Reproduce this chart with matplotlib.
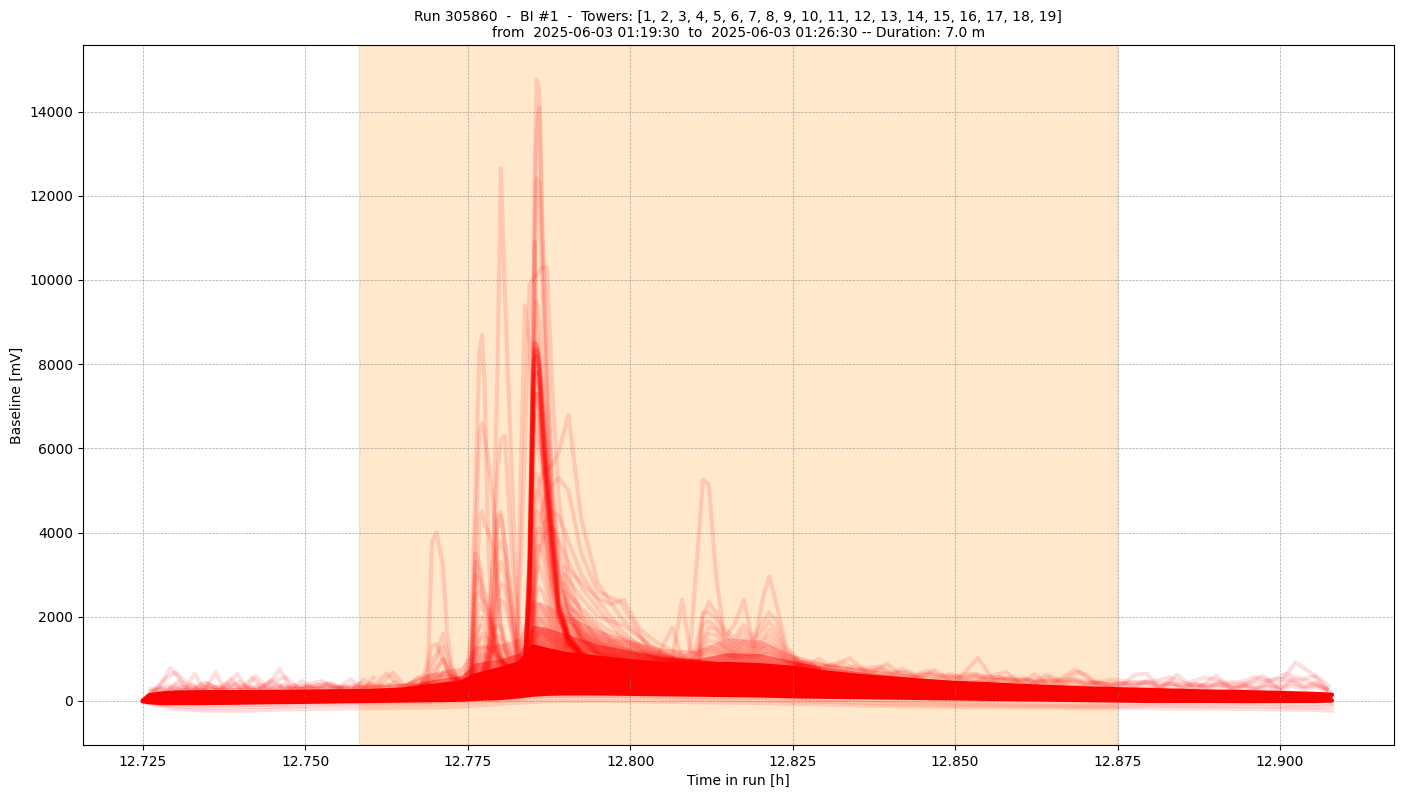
import matplotlib
matplotlib.use("Agg")
import matplotlib.pyplot as plt

title_text = ("Run 305860  -  BI #1  -  Towers: [1, 2, 3, 4, 5, 6, 7, 8, 9, 10, 11, 12, 13, 14, 15, 16, 17, 18, 19]\n"
              "from  2025-06-03 01:19:30  to  2025-06-03 01:26:30 -- Duration: 7.0 m")
window_start = 12.7583
window_end = 12.8749

# common grid for the dense band
time_h = [12.725, 12.726, 12.728, 12.73, 12.735, 12.74, 12.745, 12.75, 12.755, 12.76, 12.765,
          12.77, 12.774, 12.776, 12.78, 12.783, 12.785, 12.787, 12.79, 12.795, 12.80, 12.805,
          12.81, 12.815, 12.82, 12.825, 12.83, 12.835, 12.84, 12.845, 12.85, 12.855, 12.86,
          12.865, 12.87, 12.875, 12.88, 12.885, 12.89, 12.895, 12.90, 12.905, 12.908]
core_hi = [10, 140, 180, 200, 210, 210, 215, 220, 230, 240, 270, 370, 440, 600, 760, 900, 1300, 1220,
           1120, 1030, 950, 880, 860, 880, 850, 790, 680, 600, 540, 480, 430, 400, 360, 330, 300, 280,
           260, 240, 220, 210, 190, 170, 150]
core_lo = [-5, -30, -50, -50, -50, -40, -30, -20, -10, 0, 10, 20, 30, 50, 70, 110, 150, 170, 180, 180,
           170, 160, 150, 140, 130, 110, 100, 90, 80, 70, 60, 50, 40, 30, 20, 10, 0, 0, 0, -5, 0, 0, 10]
# softer density just above the solid band
haze_near = [10, 170, 230, 260, 270, 270, 275, 280, 290, 300, 340, 520, 600, 900, 1000, 1150, 1800, 1750,
             1600, 1350, 1200, 1050, 1000, 1150, 1120, 950, 800, 700, 620, 540, 480, 450, 410, 380, 340,
             320, 300, 280, 260, 250, 230, 200, 160]
haze_far = [10, 190, 270, 310, 320, 320, 330, 340, 350, 360, 420, 700, 800, 1300, 1350, 1500, 2400, 2300,
            2050, 1700, 1450, 1250, 1200, 1500, 1450, 1100, 900, 780, 680, 600, 530, 500, 450, 420, 380,
            360, 340, 320, 300, 290, 270, 230, 170]
low_a = [0, -60, -130, -190, -230, -230, -210, -190, -180, -170, -160, -150, -130, -110, -70, -40, -20,
         -10, 0, 0, -10, -20, -30, -40, -50, -70, -80, -100, -120, -130, -140, -150, -150, -160, -170,
         -170, -170, -180, -180, -190, -200, -210, -230]
low_b = [0, -40, -90, -130, -160, -150, -140, -110, -90, -80, -70, -60, -40, -20, 10, 40, 80, 90, 100,
         100, 90, 70, 50, 40, 20, 0, -20, -40, -60, -80, -90, -100, -110, -120, -130, -130, -110, -120,
         -130, -120, -140, -150, -130]
low_c = [0, -30, -70, -90, -110, -100, -90, -70, -60, -40, -30, -20, 0, 20, 40, 70, 110, 120, 130, 130,
         120, 110, 90, 80, 70, 50, 30, 20, 0, -20, -40, -50, -60, -70, -80, -80, -70, -80, -80, -70,
         -90, -90, -70]

# pale excursions above the band
bump_a_t = [12.725, 12.7275, 12.7292, 12.7305, 12.7316, 12.7330, 12.7345, 12.7362, 12.7375, 12.7395,
            12.7410, 12.7424, 12.7440, 12.7461, 12.7478, 12.7495, 12.7515, 12.7540, 12.7560]
bump_a_v = [0, 320, 780, 560, 330, 640, 260, 680, 300, 640, 320, 600, 330, 760, 300, 470, 280, 430, 250]
bump_b_t = [12.726, 12.7285, 12.7300, 12.7318, 12.7338, 12.7350, 12.7368, 12.7385, 12.7402, 12.7418,
            12.7432, 12.7450, 12.7470, 12.7490, 12.7505, 12.7525, 12.7550, 12.7570, 12.7590, 12.7605]
bump_b_v = [150, 520, 680, 420, 250, 420, 270, 520, 280, 560, 340, 480, 560, 300, 400, 470, 300, 520, 280, 560]
bump_c_t = [12.7285, 12.7305, 12.7325, 12.7345, 12.7370, 12.7398, 12.7425, 12.7445, 12.7465, 12.7490,
            12.7530, 12.7570, 12.7610, 12.7625, 12.7650, 12.7675, 12.7695]
bump_c_v = [210, 470, 220, 440, 260, 450, 240, 470, 340, 280, 410, 260, 430, 650, 300, 560, 340]
bump_d_t = [12.7575, 12.7590, 12.7610, 12.7635, 12.7655, 12.7675, 12.7700, 12.7712, 12.7725, 12.7738]
bump_d_v = [300, 500, 310, 680, 320, 560, 620, 1000, 560, 480]

right_a_t = [12.8520, 12.8545, 12.8579, 12.8600, 12.8622, 12.8645, 12.8684, 12.8702, 12.8725, 12.8750,
             12.8776, 12.8795, 12.8815, 12.8842, 12.8870, 12.8902, 12.8930, 12.8973, 12.8996, 12.9024,
             12.9048, 12.9065, 12.908]
right_a_v = [370, 560, 690, 380, 640, 360, 740, 620, 330, 280, 620, 650, 290, 620, 270, 600, 260, 600,
             340, 920, 660, 420, 130]
right_b_t = [12.8500, 12.8535, 12.8560, 12.8590, 12.8610, 12.8640, 12.8665, 12.8690, 12.8715, 12.8740,
             12.8785, 12.8810, 12.8830, 12.8855, 12.8885, 12.8915, 12.8945, 12.8960, 12.8985, 12.9010,
             12.9035, 12.9055, 12.9075]
right_b_v = [430, 1020, 480, 560, 340, 620, 480, 700, 420, 510, 430, 480, 560, 420, 560, 430, 470, 560,
             480, 640, 520, 600, 360]
right_c_t = [12.8300, 12.8338, 12.8368, 12.8395, 12.8420, 12.8450, 12.8468, 12.8490, 12.8520, 12.8560,
             12.8600, 12.8640, 12.8680, 12.8730, 12.8790, 12.8840, 12.8900, 12.8950, 12.9000, 12.9040, 12.9070]
right_c_v = [800, 1010, 640, 880, 600, 560, 740, 520, 650, 560, 510, 470, 520, 400, 450, 400, 380, 410,
             520, 480, 300]

# low ragged edge just above the band, left part
fuzz_left_t = [12.7262, 12.7276, 12.7288, 12.7301, 12.7313, 12.7327, 12.7340, 12.7352, 12.7366, 12.7379,
               12.7391, 12.7404, 12.7417, 12.7429, 12.7443, 12.7456, 12.7468, 12.7481, 12.7494, 12.7507,
               12.7520, 12.7533, 12.7546, 12.7559, 12.7572, 12.7585, 12.7598, 12.7611, 12.7624, 12.7637,
               12.7650, 12.7663, 12.7676, 12.7689, 12.7702, 12.7715, 12.7728, 12.7741]
fuzz_left_a = [230, 330, 270, 380, 290, 400, 280, 370, 290, 410, 300, 360, 290, 390, 300, 420, 290, 380,
               300, 350, 310, 410, 300, 360, 320, 430, 310, 380, 320, 450, 330, 410, 340, 520, 480, 740, 520, 500]
fuzz_left_b = [290, 260, 360, 290, 340, 270, 390, 280, 350, 280, 380, 270, 340, 300, 370, 280, 400, 300,
               370, 290, 380, 300, 350, 310, 390, 310, 360, 330, 400, 320, 380, 340, 430, 380, 620, 560, 610, 470]
fuzz_left_c = [200, 290, 240, 300, 250, 320, 240, 310, 260, 300, 250, 330, 260, 300, 270, 340, 270, 310,
               280, 320, 280, 330, 290, 320, 300, 340, 310, 350, 320, 360, 340, 370, 380, 420, 560, 660, 480, 540]

# low ragged edge just above the band, right part
fuzz_right_t = [12.8255, 12.8272, 12.8290, 12.8310, 12.8328, 12.8346, 12.8365, 12.8384, 12.8402, 12.8420,
                12.8439, 12.8458, 12.8476, 12.8495, 12.8514, 12.8532, 12.8551, 12.8570, 12.8588, 12.8607,
                12.8626, 12.8644, 12.8663, 12.8682, 12.8700, 12.8719, 12.8738, 12.8757, 12.8775, 12.8794,
                12.8813, 12.8832, 12.8850, 12.8869, 12.8888, 12.8906, 12.8925, 12.8944, 12.8962, 12.8981,
                12.9000, 12.9018, 12.9037, 12.9056, 12.9072]
fuzz_right_a = [980, 860, 1000, 810, 900, 760, 780, 820, 680, 760, 620, 720, 600, 640, 560, 640, 520, 580,
                480, 550, 440, 560, 440, 520, 410, 470, 380, 430, 370, 470, 350, 450, 330, 410, 340, 460,
                320, 390, 310, 430, 310, 510, 350, 450, 290]
fuzz_right_b = [860, 930, 780, 870, 740, 820, 690, 760, 650, 690, 610, 650, 590, 590, 530, 580, 500, 520,
                470, 500, 440, 490, 420, 460, 400, 430, 380, 410, 360, 420, 340, 410, 330, 380, 320, 400,
                310, 360, 300, 380, 290, 440, 320, 390, 270]
fuzz_right_c = [900, 820, 880, 780, 800, 710, 740, 680, 640, 660, 580, 620, 560, 560, 510, 530, 480, 500,
                450, 470, 420, 450, 400, 430, 380, 400, 360, 380, 340, 370, 320, 360, 310, 340, 300, 340,
                290, 320, 280, 330, 270, 360, 280, 330, 240]

# main spike near 12.785 h
spike_t = [12.7825, 12.7838, 12.7845, 12.7850, 12.7853, 12.7856, 12.7860, 12.7865, 12.7872, 12.7880,
           12.7890, 12.7905, 12.7925, 12.7950, 12.7985, 12.8030, 12.8080]
spike_rows = [
    [600, 900, 3200, 8200, 12400, 14750, 14500, 11200, 8000, 5200, 3700, 2600, 1700, 1300, 1000, 800, 600],
    [500, 800, 2500, 7000, 11000, 13400, 14100, 10800, 7600, 5000, 3300, 2300, 1600, 1200, 950, 750, 600],
    [500, 700, 2200, 6000, 9500, 12400, 12300, 9800, 7000, 4600, 3100, 2200, 1500, 1150, 900, 700, 550],
    [800, 6000, 9900, 10000, 10100, 10100, 10200, 10300, 10300, 7500, 4800, 3000, 2000, 1400, 1050, 800, 600],
    [1000, 9400, 8500, 7000, 6500, 6400, 6200, 5800, 5000, 3900, 2800, 2000, 1500, 1100, 900, 700, 550],
    [500, 800, 2800, 7500, 10900, 8800, 8200, 7400, 6000, 4300, 3000, 2100, 1500, 1150, 900, 700, 550],
    [400, 700, 2500, 6500, 8500, 9500, 9000, 7800, 6200, 4400, 2900, 2000, 1400, 1100, 850, 700, 550],
    [400, 650, 2500, 5500, 6700, 6800, 6500, 5700, 4400, 3100, 2200, 1550, 1150, 900, 730, 600, 480],
    [400, 650, 2300, 5000, 6100, 6200, 5900, 5200, 4000, 2900, 2100, 1500, 1100, 880, 720, 600, 470],
    [400, 600, 2100, 4500, 5300, 5400, 5200, 4700, 3800, 2800, 2000, 1450, 1100, 860, 700, 580, 470],
    [380, 600, 1800, 3800, 4800, 5000, 4900, 4500, 3700, 2700, 1950, 1400, 1050, 850, 700, 580, 460],
    [380, 580, 1500, 3200, 4200, 4500, 4500, 4200, 3500, 2600, 1900, 1350, 1050, 830, 680, 570, 460],
    [370, 560, 1300, 2800, 3700, 4000, 4100, 3900, 3200, 2400, 1800, 1300, 1000, 820, 680, 560, 450],
    [360, 540, 1100, 2300, 3200, 3600, 3700, 3500, 2900, 2200, 1650, 1250, 980, 800, 660, 550, 450],
    [360, 520, 950, 1900, 2700, 3100, 3200, 3000, 2600, 2000, 1550, 1200, 950, 780, 650, 540, 440],
    [350, 500, 800, 1500, 2200, 2600, 2700, 2600, 2300, 1800, 1450, 1150, 920, 760, 640, 530, 440],
    [350, 480, 700, 1200, 1800, 2200, 2300, 2200, 2000, 1650, 1350, 1100, 900, 750, 630, 520, 430],
    [340, 460, 620, 1000, 1500, 1800, 1950, 1900, 1750, 1500, 1280, 1050, 880, 730, 620, 510, 430],
    [340, 450, 560, 850, 1250, 1500, 1650, 1650, 1550, 1380, 1200, 1000, 850, 720, 610, 500, 420],
    [400, 600, 1200, 2500, 3800, 4800, 5200, 5400, 5500, 5600, 5900, 6800, 4300, 2800, 2000, 1300, 900],
    [400, 600, 1000, 2000, 3000, 3800, 4200, 4600, 4900, 5100, 5300, 5000, 3500, 2600, 2350, 1200, 850],
    [380, 560, 900, 1700, 2600, 3300, 3700, 4100, 4400, 4500, 4400, 3800, 3000, 2400, 1700, 1100, 800],
    [380, 540, 850, 1500, 2400, 3000, 3400, 3800, 4100, 4100, 3800, 3300, 2700, 2200, 1550, 1050, 780],
]
# saturated riser and wedge of the main spike
dense_rows = [
    [450, 800, 3400, 7600, 8500, 8450, 8100, 7000, 5500, 4100, 2500, 1550, 1150, 950, 780, 650, 500],
    [450, 800, 3100, 7200, 8300, 8350, 7900, 6800, 5300, 3900, 2350, 1500, 1120, 930, 770, 640, 500],
    [420, 760, 2900, 6900, 8100, 8200, 7700, 6500, 5100, 3700, 2250, 1450, 1100, 920, 760, 640, 490],
    [420, 720, 2700, 6400, 7700, 7800, 7400, 6300, 4900, 3500, 2150, 1400, 1080, 900, 750, 630, 490],
    [400, 700, 2600, 6000, 7200, 7300, 6900, 5900, 4600, 3300, 2050, 1380, 1060, 890, 740, 620, 480],
]

# earlier spikes near 12.777 and 12.780 h
early_t = [12.7745, 12.7755, 12.7762, 12.7768, 12.7772, 12.7776, 12.7782, 12.7790, 12.7796, 12.7801,
           12.7807, 12.7815, 12.7825, 12.7835]
early_rows = [
    [400, 1500, 5000, 8300, 8700, 7500, 3500, 1300, 900, 800, 750, 700, 650, 600],
    [300, 350, 400, 450, 500, 550, 800, 4000, 8000, 12650, 9800, 6500, 2500, 900],
    [350, 1000, 3800, 6400, 6600, 6300, 5700, 4600, 2900, 1800, 1300, 900, 700, 600],
    [350, 800, 2000, 4400, 4500, 4200, 4000, 3600, 2600, 1700, 1200, 850, 700, 600],
    [300, 350, 400, 500, 700, 1000, 1900, 3500, 5500, 6200, 6300, 4300, 1900, 800],
    [300, 500, 3500, 3300, 2900, 2600, 2300, 1800, 1400, 1100, 900, 750, 650, 550],
    [300, 500, 3300, 3100, 2700, 2400, 2100, 1700, 1300, 1050, 900, 750, 650, 550],
    [300, 450, 3000, 2900, 2500, 2200, 2000, 1600, 1300, 1000, 880, 740, 650, 550],
    [300, 450, 2500, 2600, 2400, 2350, 2150, 1500, 1200, 1000, 860, 730, 640, 550],
    [300, 420, 1800, 2300, 2200, 2100, 1900, 1400, 1150, 980, 850, 720, 630, 540],
    [300, 400, 1300, 1900, 2000, 1900, 1750, 1350, 1100, 950, 830, 710, 620, 530],
    [280, 380, 1000, 1500, 1600, 1550, 1450, 1250, 1050, 930, 800, 700, 620, 530],
    [280, 360, 800, 1200, 1300, 1300, 1250, 1100, 1000, 900, 790, 690, 610, 520],
    [280, 340, 650, 950, 1100, 1100, 1050, 980, 900, 840, 760, 680, 600, 520],
    [280, 340, 380, 420, 500, 800, 1300, 2500, 4400, 4500, 3800, 2700, 1500, 800],
    [280, 330, 370, 410, 480, 700, 1100, 2200, 4300, 4400, 3700, 2600, 1400, 780],
    [270, 320, 360, 400, 460, 620, 950, 1900, 3600, 3800, 3400, 2400, 1300, 760],
    [270, 320, 350, 390, 440, 560, 820, 1600, 3000, 3300, 3000, 2200, 1200, 740],
    [270, 310, 340, 380, 420, 520, 720, 1400, 2500, 2800, 2700, 2000, 1100, 720],
    [260, 300, 330, 370, 410, 480, 650, 1200, 2100, 2400, 2300, 1800, 1050, 700],
    [300, 700, 1500, 1750, 1800, 1700, 1500, 1250, 1050, 980, 900, 800, 720, 680],
    [300, 620, 1200, 1450, 1500, 1420, 1300, 1150, 1020, 950, 880, 780, 700, 660],
    [280, 340, 420, 520, 650, 900, 1250, 1700, 1800, 1750, 1500, 1200, 1000, 780],
    [280, 330, 400, 480, 600, 800, 1050, 1400, 1550, 1500, 1350, 1100, 950, 760],
    [280, 320, 380, 450, 560, 720, 920, 1200, 1350, 1330, 1200, 1020, 900, 740],
]

# small bump before the spikes, 4000 mV excursion at 12.770 h
pre_t = [12.7675, 12.7688, 12.7695, 12.7702, 12.7712, 12.7718, 12.7725, 12.7735, 12.7745]
pre_rows = [
    [250, 400, 3800, 4000, 3200, 1700, 800, 500, 400],
    [260, 900, 1300, 1350, 1000, 750, 560, 430, 350],
    [260, 700, 1000, 1100, 1600, 1200, 800, 500, 380],
    [250, 550, 800, 1000, 1300, 950, 700, 460, 360],
    [240, 450, 650, 800, 1000, 800, 620, 440, 350],
]

# bumps near 12.812 to 12.821 h
mid_t = [12.8040, 12.8065, 12.8080, 12.8092, 12.8105, 12.8112, 12.8121, 12.8132, 12.8145, 12.8160,
         12.8175, 12.8190, 12.8205, 12.8214, 12.8225, 12.8240, 12.8260, 12.8290]
mid_rows = [
    [1000, 1750, 1000, 1150, 3800, 5250, 5150, 3000, 1500, 1800, 2400, 1300, 2500, 2950, 2300, 1300, 950, 800],
    [950, 1000, 2400, 1200, 1100, 2000, 2350, 2100, 1700, 1500, 1800, 1500, 1900, 2100, 1900, 1200, 950, 780],
    [900, 950, 950, 950, 1500, 2100, 2100, 1950, 1600, 1400, 1650, 1400, 1700, 1900, 1650, 1150, 900, 760],
    [880, 900, 900, 900, 1250, 1800, 1900, 1750, 1500, 1300, 1500, 1300, 1500, 1700, 1500, 1100, 880, 750],
    [860, 880, 880, 880, 1150, 1500, 1750, 1700, 1400, 1200, 1400, 1250, 1400, 1550, 1350, 1050, 860, 730],
    [840, 860, 860, 860, 1080, 1400, 1600, 1550, 1300, 1150, 1300, 1200, 1300, 1400, 1250, 1000, 850, 720],
    [830, 840, 840, 850, 1000, 1300, 1450, 1400, 1250, 1100, 1200, 1150, 1250, 1300, 1180, 980, 840, 710],
    [820, 830, 830, 840, 960, 1200, 1300, 1250, 1150, 1050, 1120, 1100, 1150, 1200, 1100, 950, 830, 700],
    [810, 820, 820, 830, 930, 1120, 1200, 1150, 1080, 1020, 1060, 1050, 1100, 1120, 1040, 930, 820, 690],
]

# decay tails after the main spike
tail_t = [12.7900, 12.7925, 12.7950, 12.7970, 12.7990, 12.8015, 12.8040, 12.8070, 12.8100, 12.8130]
tail_rows = [
    [3200, 2800, 2450, 2300, 2400, 1700, 1400, 1150, 950, 900],
    [3000, 2450, 2000, 1900, 1800, 1500, 1250, 1050, 950, 880],
    [2600, 2200, 1850, 1650, 1500, 1350, 1150, 1000, 930, 880],
    [2300, 2000, 1700, 1500, 1400, 1250, 1100, 1000, 920, 880],
    [2100, 1800, 1550, 1400, 1300, 1200, 1080, 980, 920, 880],
    [1900, 1650, 1450, 1320, 1250, 1150, 1050, 960, 910, 880],
    [1750, 1550, 1380, 1270, 1200, 1120, 1030, 950, 900, 870],
    [1600, 1450, 1300, 1220, 1150, 1080, 1010, 940, 900, 870],
    [2800, 2100, 1750, 1450, 1380, 1300, 1180, 1020, 940, 890],
    [2450, 1900, 1600, 1420, 1280, 1180, 1100, 990, 930, 880],
    [2200, 1720, 1500, 1350, 1220, 1130, 1060, 970, 920, 880],
    [2000, 1600, 1420, 1300, 1180, 1100, 1030, 960, 910, 870],
    [1800, 1500, 1350, 1250, 1130, 1060, 1000, 940, 900, 860],
    [1650, 1420, 1280, 1180, 1100, 1040, 990, 930, 890, 860],
    [1500, 1350, 1220, 1140, 1080, 1020, 970, 920, 880, 850],
    [1420, 1300, 1180, 1110, 1050, 1000, 960, 910, 880, 850],
    [1350, 1240, 1150, 1080, 1030, 990, 950, 900, 870, 850],
    [1300, 1200, 1120, 1060, 1010, 970, 930, 900, 870, 840],
]

fig, ax = plt.subplots(figsize=(14.02, 7.99), dpi=100)
fig.subplots_adjust(left=0.0592, right=0.9941, top=0.9437, bottom=0.0676)

ax.axvspan(window_start, window_end, color="darkorange", alpha=0.2)

pale = dict(color="red", alpha=0.13, lw=3)
for low in (low_a, low_b, low_c):
    ax.plot(time_h, low, **pale)
for t, v in [(bump_a_t, bump_a_v), (bump_b_t, bump_b_v), (bump_c_t, bump_c_v), (bump_d_t, bump_d_v),
             (right_a_t, right_a_v), (right_b_t, right_b_v), (right_c_t, right_c_v),
             (fuzz_left_t, fuzz_left_a), (fuzz_left_t, fuzz_left_b), (fuzz_left_t, fuzz_left_c),
             (fuzz_right_t, fuzz_right_a), (fuzz_right_t, fuzz_right_b), (fuzz_right_t, fuzz_right_c)]:
    ax.plot(t, v, **pale)
for t, rows in [(spike_t, spike_rows), (early_t, early_rows), (pre_t, pre_rows),
                (mid_t, mid_rows), (tail_t, tail_rows)]:
    for row in rows:
        ax.plot(t, row, **pale)
for row in dense_rows:
    ax.plot(spike_t, row, color="red", alpha=0.35, lw=3)

ax.fill_between(time_h, core_hi, haze_far, color="red", alpha=0.2, lw=0)
ax.fill_between(time_h, core_hi, haze_near, color="red", alpha=0.45, lw=0)
ax.fill_between(time_h, core_lo, core_hi, color="red", lw=0)
ax.plot(time_h, core_hi, color="red", lw=3, solid_capstyle="round")
ax.plot(time_h, core_lo, color="red", lw=3, solid_capstyle="round")

ax.set_xlim(12.7158, 12.9175)
ax.set_ylim(-1045, 15580)
ax.set_xticks([12.725, 12.75, 12.775, 12.8, 12.825, 12.85, 12.875, 12.9])
ax.set_xticklabels(["12.725", "12.750", "12.775", "12.800", "12.825", "12.850", "12.875", "12.900"])
ax.grid(True, linestyle="--", linewidth=0.5, color="gray", alpha=0.7)
ax.set_xlabel("Time in run [h]")
ax.set_ylabel("Baseline [mV]")
ax.set_title(title_text, fontsize=10)

fig.savefig("out.png")
